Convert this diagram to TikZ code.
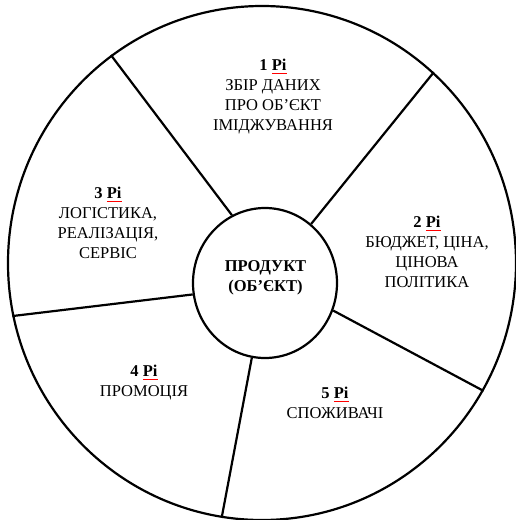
\documentclass[tikz,border=0pt]{standalone}
\usepackage{fontspec}
\setmainfont{Liberation Serif}
\newfontfamily\tnr{Liberation Serif}
\usetikzlibrary{shapes.geometric}
\newcommand\spellmark[1]{\setbox0\hbox{#1}\rlap{\color{red}\raisebox{-3pt}{\rule{\wd0}{0.6pt}}}\box0}
\begin{document}
\begin{tikzpicture}[x=1pt,y=-1pt,line width=2.2pt,
  ring/.style={draw, ellipse, inner sep=0pt},
  txt/.style={align=center, inner sep=0pt, font=\tnr\fontsize{16.5}{20}\selectfont},
  spoke/.style={draw, line width=2.2pt}]
\useasboundingbox (0,0) rectangle (516,520);
\node[ring, minimum width=508pt, minimum height=514pt] (rim) at (262,263) {};
\node[ring, minimum width=144pt, minimum height=150pt] (core) at (265,283) {};
\node[txt, font=\tnr\fontsize{16.5}{20}\selectfont\bfseries] (coretext) at (265.5,278) {ПРОДУКТ\\(ОБ’ЄКТ)};
\draw[spoke] (core.116.2) -- (rim.126.8);
\draw[spoke] (core.52.7) -- (rim.48.3);
\draw[spoke] (core.189.6) -- (rim.192.6);
\draw[spoke] (core.338.3) -- (rim.330.5);
\draw[spoke] (core.260.4) -- (rim.261.3);
\node[txt] (p1) at (273,97) {\textbf{1 \spellmark{Pi}}\\ЗБІР ДАНИХ\\ПРО ОБ’ЄКТ\\ІМІДЖУВАННЯ};
\node[txt] (p2) at (427,252) {\textbf{2 \spellmark{Pi}}\\БЮДЖЕТ, ЦІНА,\\ЦІНОВА\\ПОЛІТИКА};
\node[txt] (p3) at (108,223) {\textbf{3 \spellmark{Pi}}\\ЛОГІСТИКА,\\РЕАЛІЗАЦІЯ,\\СЕРВІС};
\node[txt] (p4) at (144,383) {\textbf{4 \spellmark{Pi}}\\ПРОМОЦІЯ};
\node[txt] (p5) at (335,403) {\textbf{5 \spellmark{Pi}}\\СПОЖИВАЧІ};
\end{tikzpicture}
\end{document}
